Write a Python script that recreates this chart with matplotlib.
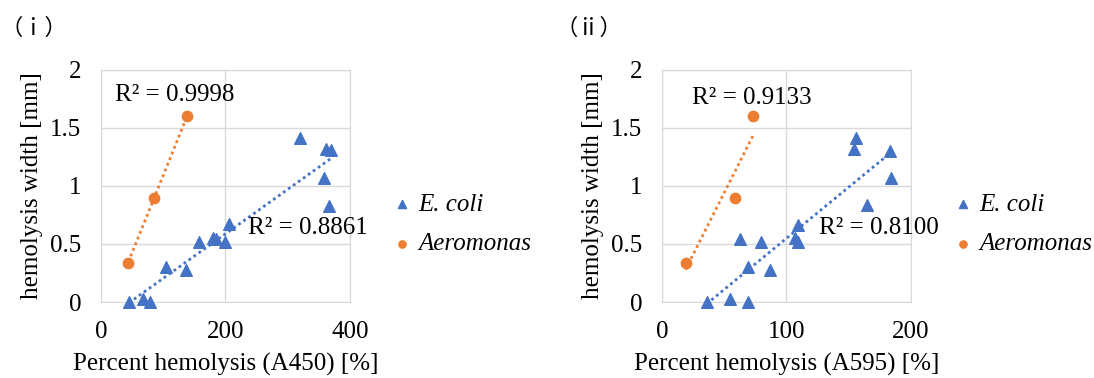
import numpy as np
import matplotlib.pyplot as plt

# E. coli: hemolysis width [mm]
ecoli_width = [0, 0.03, 0, 0.30, 0.28, 0.52, 0.55, 0.54, 0.52, 0.67, 1.41, 1.32, 1.31, 1.07, 0.83]
ecoli_a450 = [45, 68, 79, 105, 137, 158, 180, 185, 199, 206, 320, 362, 370, 359, 367]
ecoli_a595 = [36, 55, 69, 69, 87, 63, 80, 107, 109, 109, 156, 154, 183, 184, 165]
ecoli_width_595 = [0, 0.03, 0, 0.30, 0.28, 0.54, 0.515, 0.55, 0.52, 0.66, 1.41, 1.32, 1.30, 1.07, 0.84]

# Aeromonas
aero_width = [0.34, 0.90, 1.60]
aero_a450 = [44, 85, 138.5]
aero_a595 = [19, 58.5, 73.5]

blue = "#4472C4"
orange = "#ED7D31"
serif = "Liberation Serif"
fs = 18

fig = plt.figure(figsize=(10.94, 3.78), dpi=100)
axes = [fig.add_axes([0.0923, 0.201, 0.2276, 0.614]),
        fig.add_axes([0.605, 0.201, 0.2276, 0.614])]

panels = [
    (ecoli_a450, ecoli_width, aero_a450, 400, [0, 200, 400], "Percent hemolysis (A450) [%]",
     "R² = 0.9998", (22, 1.78), "R² = 0.8861", (236, 0.64), "（ｉ）", 0.0),
    (ecoli_a595, ecoli_width_595, aero_a595, 200, [0, 100, 200], "Percent hemolysis (A595) [%]",
     "R² = 0.9133", (24.5, 1.76), "R² = 0.8100", (126, 0.64), "（ⅱ）", 0.508),
]

for ax, (ex, ey, ax_x, xmax, xt, xlabel, r2a, pa, r2e, pe, tag, tagx) in zip(axes, panels):
    ax.scatter(ex, ey, marker="^", s=70, color=blue, label="E. coli", zorder=3, clip_on=False)
    ax.scatter(ax_x, aero_width, marker="o", s=55, color=orange, label="Aeromonas", zorder=3)

    # linear trend lines
    k, b = np.polyfit(ex, ey, 1)
    xs = np.array([min(ex), max(ex)])
    ax.plot(xs, k * xs + b, linestyle=(0, (1, 1.2)), color=blue, lw=2)
    k, b = np.polyfit(ax_x, aero_width, 1)
    xs = np.array([min(ax_x), max(ax_x)])
    ax.plot(xs, k * xs + b, linestyle=(0, (1, 1.2)), color=orange, lw=2)

    ax.set_xlim(0, xmax)
    ax.set_ylim(0, 2)
    ax.set_xticks(xt)
    ax.set_yticks([0, 0.5, 1, 1.5, 2])
    ax.set_yticklabels(["0", "0.5", "1", "1.5", "2"])
    ax.grid(True, color="#d9d9d9", lw=1)
    ax.set_axisbelow(True)
    for s in ax.spines.values():
        s.set_color("#d9d9d9")
    ax.tick_params(length=0, pad=14, labelsize=fs)
    for lab in ax.get_xticklabels() + ax.get_yticklabels():
        lab.set_fontfamily(serif)

    ax.set_xlabel(xlabel, fontsize=fs, family=serif, labelpad=7)
    ax.set_ylabel("hemolysis width [mm]", fontsize=fs, family=serif, labelpad=5)

    ax.text(pa[0], pa[1], r2a, fontsize=fs, family=serif, va="center")
    ax.text(pe[0], pe[1], r2e, fontsize=fs, family=serif, va="center")

    ax.legend(loc="center left", bbox_to_anchor=(1.18, 0.335), frameon=False,
              prop={"family": serif, "style": "italic", "size": fs},
              handlelength=0.6, handletextpad=0.35, labelspacing=0.68,
              markerscale=0.7, borderaxespad=0, borderpad=0)

    fig.text(tagx, 0.926, tag, fontsize=16, family=["Noto Sans CJK JP", "DejaVu Sans"], va="center")

fig.savefig("out.png", dpi=100)
